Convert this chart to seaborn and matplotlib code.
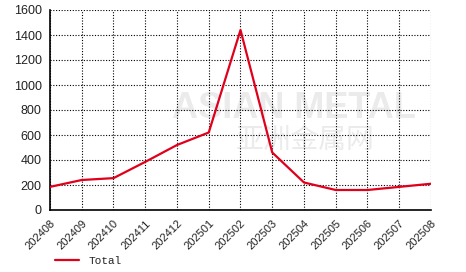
import matplotlib
matplotlib.use("Agg")
import matplotlib.pyplot as plt
import seaborn as sns
import pandas as pd

months = ["202408", "202409", "202410", "202411", "202412", "202501", "202502",
          "202503", "202504", "202505", "202506", "202507", "202508"]
total = [185, 240, 255, 385, 520, 620, 1440, 460, 220, 160, 160, 185, 210]
yticks = [0, 200, 400, 600, 800, 1000, 1200, 1400, 1600]

sns.set_style("white")
plt.rcParams['font.family'] = ['Liberation Sans', 'DejaVu Sans']

df = pd.DataFrame({"month": months, "x": range(len(months)), "Total": total})

fig = plt.figure(figsize=(4.66, 2.72), dpi=100)
ax = fig.add_axes([50/466, 1-210/272, 381/466, 200/272])

# watermark (beneath grid and line)
ax.text(0.63, 0.60, "ASIAN METAL", fontsize=26, color="#ebebeb", fontweight="bold",
        ha="center", va="center", transform=fig.transFigure, zorder=0.1)
ax.text(0.655, 0.485, "亚洲金属网", fontsize=20, color="#ebebeb", ha="center", va="center",
        family=["Noto Sans CJK SC", "DejaVu Sans"], transform=fig.transFigure, zorder=0.1)

sns.lineplot(data=df, x="x", y="Total", ax=ax, color="#e0001b", linewidth=1.6,
             label="Total", legend=False, zorder=3)

ax.set_xlim(0, len(months) - 1)
ax.set_ylim(0, 1600)
ax.set_xticks(range(len(months)))
ax.set_xticklabels(months, rotation=45, ha="right", rotation_mode="anchor", fontsize=8)
ax.set_yticks(yticks)
ax.set_yticklabels([str(v) for v in yticks], fontsize=9)
ax.set_xlabel("")
ax.set_ylabel("")
ax.set_axisbelow(False)
ax.grid(True, linestyle=(0, (1, 1.5)), color="#000000", linewidth=0.8, zorder=1)
ax.patch.set_alpha(0)
for s in ["top", "right"]:
    ax.spines[s].set_visible(False)
for s in ["left", "bottom"]:
    ax.spines[s].set_color("black")
    ax.spines[s].set_linewidth(1.2)
ax.tick_params(axis="both", direction="out", length=4, width=1, color="black",
               pad=2, labelcolor="#222222")

leg = fig.legend(handles=ax.get_lines()[:1], labels=["Total"], loc="lower left",
                 bbox_to_anchor=(45/466, -0.015), frameon=False, handlelength=2.2,
                 prop={"family": "Liberation Mono", "size": 8})

fig.savefig("out.png", dpi=100)
